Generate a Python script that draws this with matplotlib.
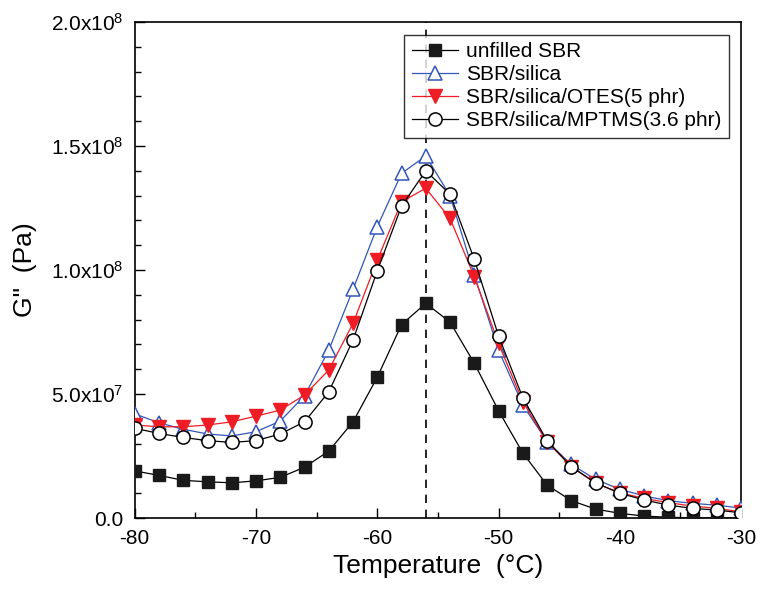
import matplotlib
matplotlib.use("Agg")
import matplotlib.pyplot as plt
from matplotlib.ticker import MultipleLocator, FuncFormatter

plt.rcParams['font.family'] = ['Liberation Sans', 'DejaVu Sans']
plt.rcParams['mathtext.fontset'] = 'custom'
plt.rcParams['mathtext.rm'] = 'Liberation Sans'
plt.rcParams['axes.unicode_minus'] = False

# temperature (degC)
temp = [-80, -78, -76, -74, -72, -70, -68, -66, -64, -62, -60, -58, -56,
        -54, -52, -50, -48, -46, -44, -42, -40, -38, -36, -34, -32, -30]

# loss modulus G'' in units of 1e7 Pa
unfilled = [1.9, 1.72, 1.52, 1.46, 1.42, 1.5, 1.64, 2.05, 2.7, 3.88, 5.68, 7.8, 8.66,
            7.9, 6.24, 4.33, 2.62, 1.33, 0.7, 0.36, 0.19, 0.08, 0.03, 0.01, 0.0, 0.0]
silica = [4.2, 3.84, 3.58, 3.39, 3.31, 3.48, 3.91, 4.93, 6.77, 9.22, 11.75, 13.9, 14.6,
          13.0, 9.8, 6.77, 4.56, 3.08, 2.16, 1.56, 1.16, 0.89, 0.7, 0.59, 0.52, 0.4]
otes = [3.75, 3.68, 3.68, 3.75, 3.88, 4.11, 4.35, 4.96, 5.97, 7.85, 10.4, 12.75, 13.3,
        12.08, 9.73, 7.04, 4.69, 3.08, 2.07, 1.4, 1.02, 0.79, 0.62, 0.48, 0.39, 0.25]
mptms = [3.62, 3.41, 3.25, 3.12, 3.05, 3.12, 3.39, 3.88, 5.09, 7.18, 9.97, 12.58, 14.0,
         13.06, 10.43, 7.34, 4.85, 3.12, 2.07, 1.42, 1.0, 0.73, 0.52, 0.39, 0.32, 0.21]

peak_temp = -56


def scale(vals):
    return [v * 1e7 for v in vals]


def ytick_fmt(v, pos):
    if v == 0:
        return "0.0"
    exp = 0
    m = v
    while abs(m) >= 10:
        m /= 10.0
        exp += 1
    return r"$\mathregular{%.1fx10^{%d}}$" % (m, exp)


def main():
    fig = plt.figure(figsize=(7.57, 5.89), dpi=100)
    ax = fig.add_axes([0.178, 0.1205, 0.801, 0.842])

    ax.axvline(peak_temp, color='black', linestyle=(0, (5, 4)), lw=1.2, zorder=1)

    ax.plot(temp, scale(unfilled), '-s', color='black', lw=0.9, ms=8.5,
            mfc='#1a1a1a', mec='#1a1a1a', label='unfilled SBR', zorder=3)
    ax.plot(temp, scale(silica), '-^', color='#3355bb', lw=0.9, ms=10,
            mfc='white', mec='#3355bb', mew=1.1, label='SBR/silica', zorder=3)
    ax.plot(temp, scale(otes), '-v', color='#ee1c24', lw=0.9, ms=10,
            mfc='#ee1c24', mec='#ee1c24', label='SBR/silica/OTES(5 phr)', zorder=3)
    ax.plot(temp, scale(mptms), '-o', color='black', lw=0.9, ms=9.5,
            mfc='white', mec='black', mew=1.1, label='SBR/silica/MPTMS(3.6 phr)', zorder=4)

    ax.set_xlim(-80, -30)
    ax.set_ylim(0, 2.0e8)
    ax.xaxis.set_major_locator(MultipleLocator(10))
    ax.xaxis.set_minor_locator(MultipleLocator(5))
    ax.yaxis.set_major_locator(MultipleLocator(5e7))
    ax.yaxis.set_minor_locator(MultipleLocator(1e7))
    ax.yaxis.set_major_formatter(FuncFormatter(ytick_fmt))

    ax.tick_params(which='both', direction='in', labelsize=15, width=1.0)
    ax.tick_params(which='major', length=7, pad=8)
    ax.tick_params(which='minor', length=4)
    for sp in ax.spines.values():
        sp.set_linewidth(1.2)

    ax.set_xlabel("Temperature  (\u00b0C)", fontsize=19, labelpad=4)
    ax.set_ylabel('G"  (Pa)', fontsize=19, labelpad=10)

    leg = ax.legend(loc='upper right', fontsize=15, frameon=True, fancybox=False,
                    borderaxespad=0.6, handlelength=2.2, handletextpad=0.4,
                    labelspacing=0.2, borderpad=0.35)
    leg.get_frame().set_edgecolor('black')
    leg.get_frame().set_linewidth(1.0)
    leg.set_zorder(10)

    fig.savefig("out.png", dpi=100)


if __name__ == '__main__':
    main()
